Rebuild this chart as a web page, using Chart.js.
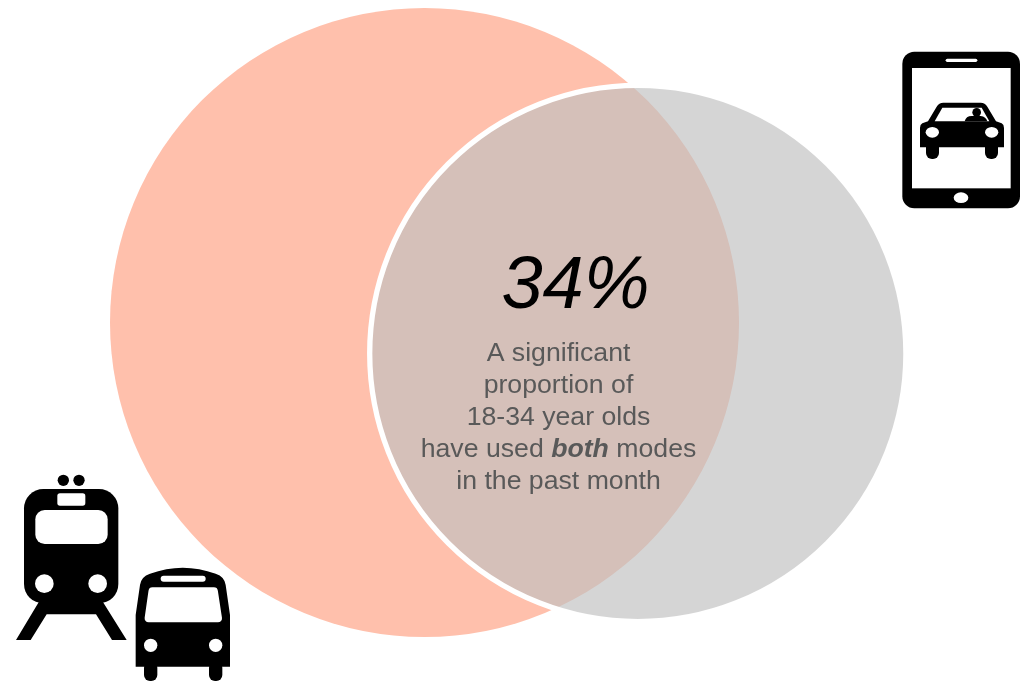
<!DOCTYPE html>
<html>
<head>
<meta charset="utf-8">
<title>Transit and ride-hailing overlap</title>
<script src="https://cdn.jsdelivr.net/npm/chart.js@4"></script>
<style>
    html, body { margin: 0; padding: 0; background: #fff; }
    canvas { display: block; }
</style>
</head>
<body>
<canvas id="venn" width="1028" height="685"></canvas>
<script>
// venn circles, on a 1028 x 685 plane
const circleNames = ["Transit", "Ride-hailing"];
const circleX = [424.5, 637.8];
const circleY = [322.5, 353.5];
const circleR = [314.5, 268.1];
const circleFill = ["#FFC0AC", "rgba(191, 191, 191, 0.66)"];
const circleBorder = ["rgba(255, 255, 255, 0)", "#FFFFFF"];
const circleBorderWidth = [0, 5.3];

const overlapValue = "34%";
const overlapLines = [
    [["A significant", false]],
    [["proportion of", false]],
    [["18-34 year olds", false]],
    [["have used ", false], ["both", true], [" modes", false]],
    [["in the past month", false]],
];

function roundRect(ctx, x, y, w, h, r) {
    ctx.beginPath();
    ctx.roundRect(x, y, w, h, r);
    ctx.fill();
}

function disc(ctx, x, y, rx, ry) {
    ctx.beginPath();
    ctx.ellipse(x, y, rx, ry === undefined ? rx : ry, 0, 0, Math.PI * 2);
    ctx.fill();
}

function polygon(ctx, pts) {
    ctx.beginPath();
    pts.forEach((p, i) => (i ? ctx.lineTo(p[0], p[1]) : ctx.moveTo(p[0], p[1])));
    ctx.closePath();
    ctx.fill();
}

function roundedPolygon(ctx, pts, r) {
    const n = pts.length;
    ctx.beginPath();
    ctx.moveTo((pts[n - 1][0] + pts[0][0]) / 2, (pts[n - 1][1] + pts[0][1]) / 2);
    pts.forEach((p, i) => {
        const next = pts[(i + 1) % n];
        ctx.arcTo(p[0], p[1], next[0], next[1], r);
    });
    ctx.closePath();
    ctx.fill();
}

// icons are laid out in thirds of a pixel, from their own origin
function drawTablet(ctx) {
    ctx.save();
    ctx.translate(890, 40);
    ctx.scale(1 / 3, 1 / 3);
    ctx.fillStyle = "#000";
    roundRect(ctx, 37, 35, 353, 470, 36);
    ctx.fillStyle = "#fff";
    ctx.fillRect(66, 84, 296, 361);
    roundRect(ctx, 167, 56, 95, 10, 5);
    disc(ctx, 213, 473, 22, 16);

    // car
    ctx.fillStyle = "#000";
    ctx.beginPath();
    ctx.moveTo(160, 188);
    ctx.lineTo(272, 188);
    ctx.quadraticCurveTo(285, 188, 292, 200);
    ctx.lineTo(318, 244);
    ctx.lineTo(335, 250);
    ctx.quadraticCurveTo(342, 254, 342, 264);
    ctx.lineTo(342, 322);
    ctx.lineTo(90, 322);
    ctx.lineTo(90, 264);
    ctx.quadraticCurveTo(90, 254, 97, 250);
    ctx.lineTo(114, 244);
    ctx.lineTo(140, 200);
    ctx.quadraticCurveTo(147, 188, 160, 188);
    ctx.closePath();
    ctx.fill();
    roundRect(ctx, 108, 300, 39, 57, 18);
    roundRect(ctx, 285, 300, 39, 57, 18);
    ctx.fillStyle = "#fff";
    polygon(ctx, [[157, 203], [275, 203], [298, 244], [134, 244]]);
    disc(ctx, 127, 277, 20, 16);
    disc(ctx, 305, 277, 20, 16);
    ctx.fillStyle = "#000";
    disc(ctx, 260, 217, 13);
    ctx.beginPath();
    ctx.moveTo(224, 244);
    ctx.quadraticCurveTo(228, 228, 245, 228);
    ctx.lineTo(272, 228);
    ctx.quadraticCurveTo(288, 230, 292, 244);
    ctx.closePath();
    ctx.fill();
    ctx.restore();
}

function drawTrainAndBus(ctx) {
    ctx.save();
    ctx.translate(0, 465);
    ctx.scale(1 / 3, 1 / 3);
    ctx.fillStyle = "#000";

    // train
    disc(ctx, 190, 46, 17);
    disc(ctx, 237, 46, 17);
    roundRect(ctx, 72, 72, 283, 343, 58);
    polygon(ctx, [[120, 405], [305, 405], [380, 525], [336, 525], [288, 448], [140, 448], [92, 525], [48, 525]]);
    ctx.fillStyle = "#fff";
    roundRect(ctx, 172, 85, 84, 37, 8);
    roundRect(ctx, 106, 135, 217, 102, 28);
    disc(ctx, 133, 356, 28);
    disc(ctx, 293, 356, 28);

    // bus
    ctx.fillStyle = "#000";
    ctx.beginPath();
    ctx.moveTo(407, 605);
    ctx.lineTo(407, 450);
    ctx.lineTo(420, 360);
    ctx.quadraticCurveTo(423, 335, 450, 326);
    ctx.quadraticCurveTo(548, 290, 647, 326);
    ctx.quadraticCurveTo(674, 335, 677, 360);
    ctx.lineTo(690, 450);
    ctx.lineTo(690, 605);
    ctx.closePath();
    ctx.fill();
    roundRect(ctx, 432, 590, 40, 58, 18);
    roundRect(ctx, 627, 590, 40, 58, 18);
    ctx.fillStyle = "#fff";
    roundRect(ctx, 482, 332, 135, 18, 9);
    roundedPolygon(ctx, [[447, 367], [652, 367], [668, 472], [432, 472]], 12);
    disc(ctx, 452, 541, 20);
    disc(ctx, 647, 541, 20);
    ctx.restore();
}

const overlayPlugin = {
    id: "overlay",
    afterDatasetsDraw(chart) {
        const ctx = chart.ctx;
        drawTablet(ctx);
        drawTrainAndBus(ctx);

        ctx.save();
        ctx.textBaseline = "alphabetic";
        ctx.textAlign = "left";
        ctx.fillStyle = "#000";
        ctx.font = 'italic 74px "Liberation Sans"';
        const w = ctx.measureText(overlapValue).width;
        ctx.fillText(overlapValue, 575.5 - w / 2, 308);

        // text lines with a bold run, so each run is measured on its own
        ctx.fillStyle = "#595959";
        overlapLines.forEach((runs, i) => {
            const fontFor = (bold) => (bold ? 'italic bold 26.67px "Liberation Sans"' : '26.67px "Liberation Sans"');
            let total = 0;
            runs.forEach((r) => {
                ctx.font = fontFor(r[1]);
                total += ctx.measureText(r[0]).width;
            });
            let x = 558.5 - total / 2;
            runs.forEach((r) => {
                ctx.font = fontFor(r[1]);
                ctx.fillText(r[0], x, 361 + i * 32);
                x += ctx.measureText(r[0]).width;
            });
        });
        ctx.restore();
    },
};

new Chart(document.getElementById("venn"), {
    type: "bubble",
    data: {
        labels: circleNames,
        datasets: [
            {
                data: circleNames.map((_, i) => ({ x: circleX[i], y: circleY[i], r: circleR[i] })),
                backgroundColor: circleFill,
                borderColor: circleBorder,
                borderWidth: circleBorderWidth,
                clip: false,
            },
        ],
    },
    options: {
        responsive: false,
        animation: false,
        events: [],
        layout: { padding: 0, autoPadding: false },
        scales: {
            x: { type: "linear", min: 0, max: 1028, display: false },
            y: { type: "linear", min: 0, max: 685, reverse: true, display: false },
        },
        plugins: {
            legend: { display: false },
            tooltip: { enabled: false },
        },
    },
    plugins: [overlayPlugin],
});
</script>
</body>
</html>
